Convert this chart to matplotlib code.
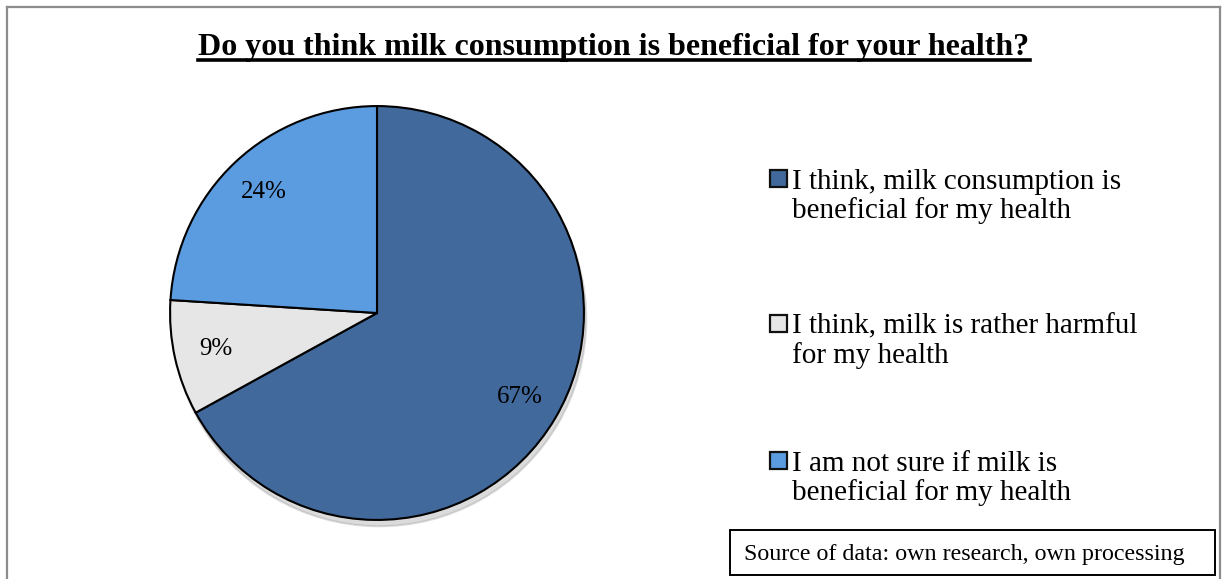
import matplotlib
matplotlib.use("Agg")
import matplotlib.pyplot as plt
from matplotlib.patches import Rectangle
from matplotlib.lines import Line2D

# survey answers and shares (percent)
answers = ["I think, milk consumption is\nbeneficial for my health",
           "I think, milk is rather harmful\nfor my health",
           "I am not sure if milk is\nbeneficial for my health"]
shares = [67, 9, 24]
colors = ["#41699c", "#e6e6e6", "#5b9be0"]

title = "Do you think milk consumption is beneficial for your health?"
source = "Source of data: own research, own processing"

W, H = 1226, 579
plt.rcParams['font.family'] = ['Liberation Serif', 'DejaVu Serif']

fig = plt.figure(figsize=(W / 100, H / 100), dpi=100)

def px(x, y):
    # pixel coords (top-left origin) -> figure fraction
    return x / W, 1 - y / H

# grey outer frame (bottom runs off the picture)
for xs, ys in [((7, 7), (7, H + 5)), ((7, 1220), (7, 7)), ((1220, 1220), (7, H + 5))]:
    fig.add_artist(Line2D([x / W for x in xs], [1 - y / H for y in ys],
                          transform=fig.transFigure, color="#8c8c8c", lw=1.6))

# pie axes, centre (377,313), radius 209 px
cx, cy, r = 377, 313, 209
ax = fig.add_axes([(cx - r) / W, (H - cy - r) / H, 2 * r / W, 2 * r / H])
wedges, texts, autotexts = ax.pie(shares, colors=colors, startangle=90, counterclock=False,
                                  autopct=lambda p: "%d%%" % round(p), pctdistance=0.8,
                                  wedgeprops=dict(edgecolor="black", linewidth=1.5),
                                  shadow=dict(ox=0.008, oy=-0.022, shade=0.0,
                                              color="#999999", alpha=0.35),
                                  textprops=dict(fontsize=18, color="black"))
ax.set_xlim(-1.01, 1.01)
ax.set_ylim(-1.01, 1.01)
ax.set_aspect("equal")
ax.axis("off")

# title with underline
t = fig.text(*px(614, 55), title, ha="center", va="baseline",
             fontsize=23, fontweight="bold")
fig.canvas.draw()
bb = t.get_window_extent().transformed(fig.transFigure.inverted())
fig.add_artist(Line2D([bb.x0, bb.x1], [1 - 60 / H] * 2,
                      transform=fig.transFigure, color="black", lw=2.6))

# legend, drawn by hand to keep the uneven spacing
# (baseline of first line of each entry; va='baseline' pins the last line)
legend_base = [188, 333, 470]
for lab, col, y in zip(answers, colors, legend_base):
    fig.add_artist(Rectangle(px(770, y - 1), 17 / W, 17 / H, transform=fig.transFigure,
                             facecolor=col, edgecolor="#111111", lw=1.6))
    fig.text(*px(792, y + 30), lab, ha="left", va="baseline", fontsize=21,
             linespacing=1.12)

# source box
fig.add_artist(Rectangle(px(730, 575), (1215 - 730) / W, (575 - 530) / H,
                         transform=fig.transFigure, facecolor="white",
                         edgecolor="black", lw=1.4))
fig.text(*px(964, 560), source, ha="center", va="baseline", fontsize=17.3)

fig.savefig("out.png", dpi=100)
